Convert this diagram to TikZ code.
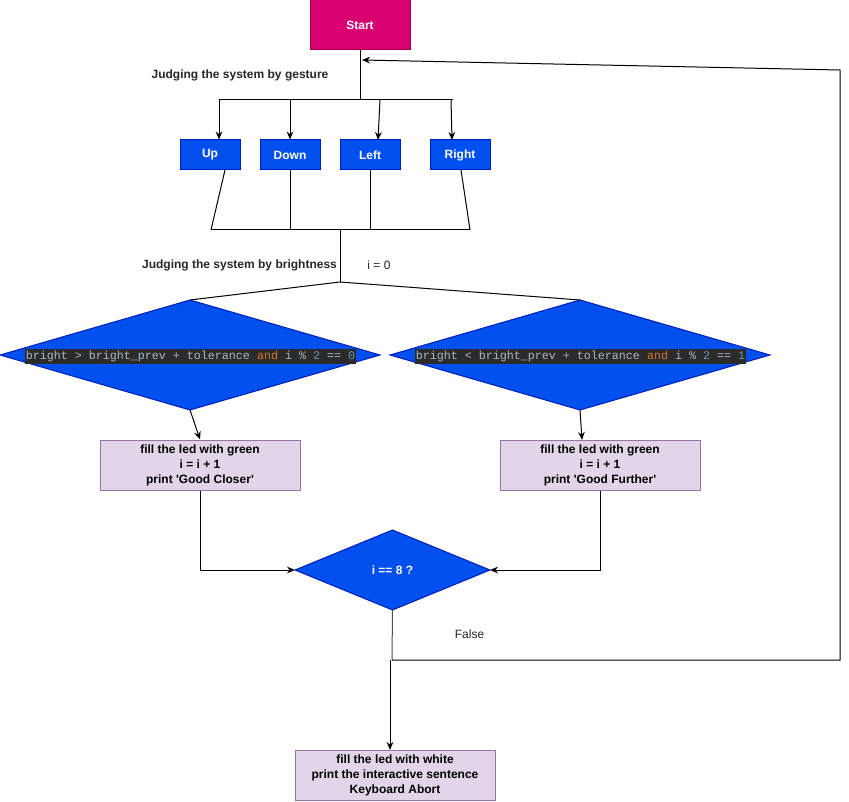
\documentclass[tikz,border=0pt]{standalone}
\usepackage{fontspec}
\setmainfont{Liberation Sans}
\newfontfamily\plainsans{Liberation Sans}
\newfontfamily\codefont{Liberation Mono}
\usetikzlibrary{arrows.meta,shapes.geometric}
\definecolor{magentaF}{HTML}{D80073}
\definecolor{magentaD}{HTML}{A50040}
\definecolor{blueF}{HTML}{0050EF}
\definecolor{blueD}{HTML}{001DBC}
\definecolor{purpF}{HTML}{E1D5E7}
\definecolor{purpD}{HTML}{9673A6}
\definecolor{codebg}{HTML}{2B2B2B}
\definecolor{codefg}{HTML}{A9B7C6}
\definecolor{codekw}{HTML}{CC7832}
\definecolor{codenum}{HTML}{6897BB}
\begin{document}
\begin{tikzpicture}[x=0.75pt,y=-0.75pt,
  font=\fontsize{9pt}{11.25pt}\selectfont,
  line width=0.75pt,
  arr/.style={-{Stealth[length=6pt,width=5pt]}},
  startbox/.style={draw=magentaD, fill=magentaF, text=white,
    font=\fontsize{9pt}{11.25pt}\selectfont\bfseries,
    minimum width=75pt, minimum height=37.5pt, inner sep=0pt},
  dirbox/.style={draw=blueD, fill=blueF, text=white,
    font=\fontsize{9pt}{11.25pt}\selectfont\bfseries,
    minimum width=45pt, minimum height=22.5pt, inner sep=0pt},
  actbox/.style={draw=purpD, fill=purpF, text=black, align=center,
    font=\fontsize{9pt}{11.25pt}\plainsans\bfseries,
    minimum width=150pt, minimum height=37.5pt, inner sep=0pt},
  decision/.style={diamond, draw=blueD, fill=blueF, inner sep=0pt, outer sep=0pt},
  codebox/.style={fill=codebg, text=codefg,
    font=\fontsize{8.75pt}{10pt}\codefont,
    minimum height=11.25pt, inner xsep=0.5pt, inner ysep=0pt},
  lbl/.style={inner sep=0pt, text=black!85},
  boldlbl/.style={lbl, font=\fontsize{9pt}{11.25pt}\selectfont\bfseries}
]
\useasboundingbox (0,0) rectangle (849,802);

% nodes
\node[startbox] (start) at (360,25) {Start};
\node[dirbox] (up) at (210,155) {Up};
\node[dirbox] (down) at (290,155) {Down};
\node[dirbox] (left) at (370,155) {Left};
\node[dirbox] (right) at (460,155) {Right};

\node[decision, minimum width=285pt, minimum height=82.5pt] (d1) at (190,355) {};
\node[decision, minimum width=285pt, minimum height=82.5pt] (d2) at (580,355) {};
\node[codebox] (c1) at (190.5,356) {bright > bright\_prev + tolerance \textcolor{codekw}{and} i \% \textcolor{codenum}{2} == \textcolor{codenum}{0}};
\node[codebox] (c2) at (580.5,356) {bright < bright\_prev + tolerance \textcolor{codekw}{and} i \% \textcolor{codenum}{2} == \textcolor{codenum}{1}};

\node[actbox] (closer) at (200,465) {fill the led with green\\i = i + 1\\print 'Good Closer'};
\node[actbox] (further) at (600,465) {fill the led with green\\i = i + 1\\print 'Good Further'};

\node[decision, minimum width=146.25pt, minimum height=60pt] (d8) at (392.5,570) {};
\node[text=white, font=\fontsize{9pt}{11.25pt}\selectfont\bfseries, inner sep=0pt] (d8t) at (392.5,570) {i == 8 ?};

\node[actbox] (abort) at (395,775) {fill the led with white\\print the interactive sentence\\Keyboard Abort};

% labels
\node[boldlbl] (lg) at (240,75) {Judging the system by gesture};
\node[boldlbl] (lb) at (239.5,265) {Judging the system by brightness};
\node[lbl] (li) at (379,265) {i = 0};
\node[lbl] (lf) at (469.5,634) {False};

% coordinates
\coordinate (g0) at (360,100);
\coordinate (gL) at (219,100);
\coordinate (gD) at (290,100);
\coordinate (gLe) at (380,100);
\coordinate (gR) at (451,100);
\coordinate (gRr) at (453,100);
\coordinate (mL) at (211,230);
\coordinate (mR) at (470,230);
\coordinate (mC) at (340,230);
\coordinate (bC) at (340,282);
\coordinate (m8) at (392,660);
\coordinate (loopA) at (840,660);
\coordinate (loopB) at (840,70);
\coordinate (ret) at (362,60);

% gesture split
\draw (start.south) -- (g0);
\draw (gL) -- (gRr);
\draw[arr] (gL) -- (gL |- up.north);
\draw[arr] (gD) -- (down.north);
\draw[arr] (gLe) -- (378,140);
\draw[arr] (gR) -- (452,140);

% merge
\draw (225,170) -- (mL);
\draw (down.south) -- (down.south |- mL);
\draw (left.south) -- (left.south |- mL);
\draw (461,170) -- (mR);
\draw (mL) -- (mR);
\draw (mC) -- (bC);
\draw (bC) -- (d1.north);
\draw (bC) -- (d2.north);

% decisions to actions
\draw[arr] (d1.south) -- (closer.north);
\draw[arr] (d2.south) -- (582,440);

% to i==8
\draw[arr] (closer.south) |- (d8.west);
\draw[arr] (further.south) |- (d8.east);

% loop and exit
\draw[black!70] (d8.south) -- (m8);
\draw[arr] (m8) -- (loopA) -- (loopB) -- (ret);
\draw[arr] (390,660) -- (390,750);
\end{tikzpicture}
\end{document}
